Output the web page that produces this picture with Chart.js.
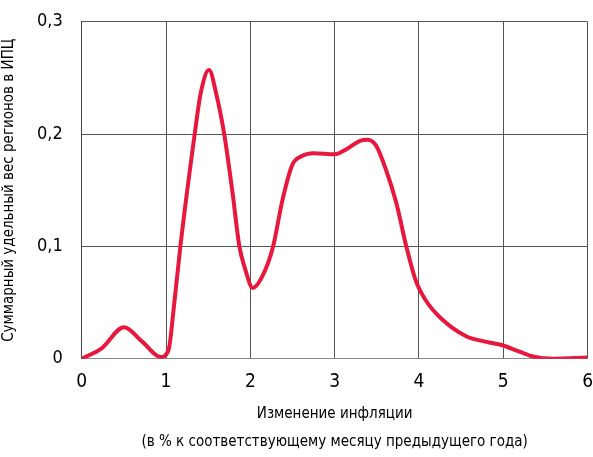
<!DOCTYPE html>
<html>
<head>
<meta charset="utf-8">
<script src="https://cdn.jsdelivr.net/npm/chart.js@4"></script>
<style>
  body { margin: 0; background: #fff; overflow: hidden; }
  #wrap { width: 593px; height: 457px; overflow: hidden; position: relative; }
  canvas { display: block; margin-top: -8px; }
</style>
</head>
<body>
<div id="wrap"><canvas id="myChart" width="605" height="465"></canvas></div>
<script>
// Inflation change (x, %) and summed CPI weight of regions (y)
const inflation = [0, 0.24, 0.5, 0.72, 0.935, 1.03, 1.09, 1.17, 1.34, 1.41, 1.51, 1.595, 1.69, 1.79, 1.87, 1.93, 2.03, 2.14, 2.27, 2.38, 2.5, 2.6, 2.75, 3.0, 3.15, 3.3, 3.39, 3.49, 3.61, 3.73, 3.85, 3.96, 4.08, 4.26, 4.56, 4.8, 4.99, 5.2, 5.35, 5.6, 6.0];
const weight    = [0, 0.0095, 0.028, 0.015, 0.0015, 0.008, 0.044, 0.1, 0.2, 0.236, 0.257, 0.236, 0.2, 0.147, 0.1, 0.082, 0.063, 0.073, 0.1, 0.141, 0.173, 0.18, 0.183, 0.182, 0.187, 0.194, 0.195, 0.19, 0.168, 0.139, 0.1, 0.07, 0.052, 0.036, 0.02, 0.015, 0.012, 0.006, 0.002, 0, 0.001];
const xTitle = ["Изменение инфляции", "(в % к соответствующему месяцу предыдущего года)"];
const yTitle = "Суммарный удельный вес регионов в ИПЦ";

const font = "'Liberation Sans Narrow', 'DejaVu Sans Condensed', 'Roboto Condensed', sans-serif";

const points = inflation.map((x, i) => ({ x: x, y: weight[i] }));

new Chart(document.getElementById("myChart"), {
  type: "line",
  data: {
    datasets: [{
      data: points,
      borderColor: "#e8173d",
      borderWidth: 4,
      pointRadius: 0,
      cubicInterpolationMode: "monotone",
      fill: false
    }]
  },
  options: {
    responsive: false,
    animation: false,
    layout: { autoPadding: false, padding: { top: 14, right: -7, left: 0, bottom: 1 } },
    plugins: { legend: { display: false }, tooltip: { enabled: false } },
    scales: {
      x: {
        type: "linear",
        min: 0, max: 6,
        ticks: { stepSize: 1, color: "#000", padding: 12, font: { family: font, size: 19 } },
        grid: { color: "#555", drawTicks: false },
        border: { color: "#888" },
        title: { display: true, text: xTitle, color: "#000", padding: { top: -5, bottom: 0 }, font: { family: font, size: 15, lineHeight: 1.85 } }
      },
      y: {
        min: 0, max: 0.3,
        ticks: {
          stepSize: 0.1, color: "#000", padding: 19,
          font: { family: font, size: 18 },
          callback: v => String(Math.round(v * 10) / 10).replace(".", ",")
        },
        grid: { color: "#555", drawTicks: false },
        border: { color: "#444" },
        title: { display: true, text: yTitle, color: "#000", padding: { top: 0, bottom: 0 }, font: { family: font, size: 15 } }
      }
    }
  }
});
</script>
</body>
</html>
